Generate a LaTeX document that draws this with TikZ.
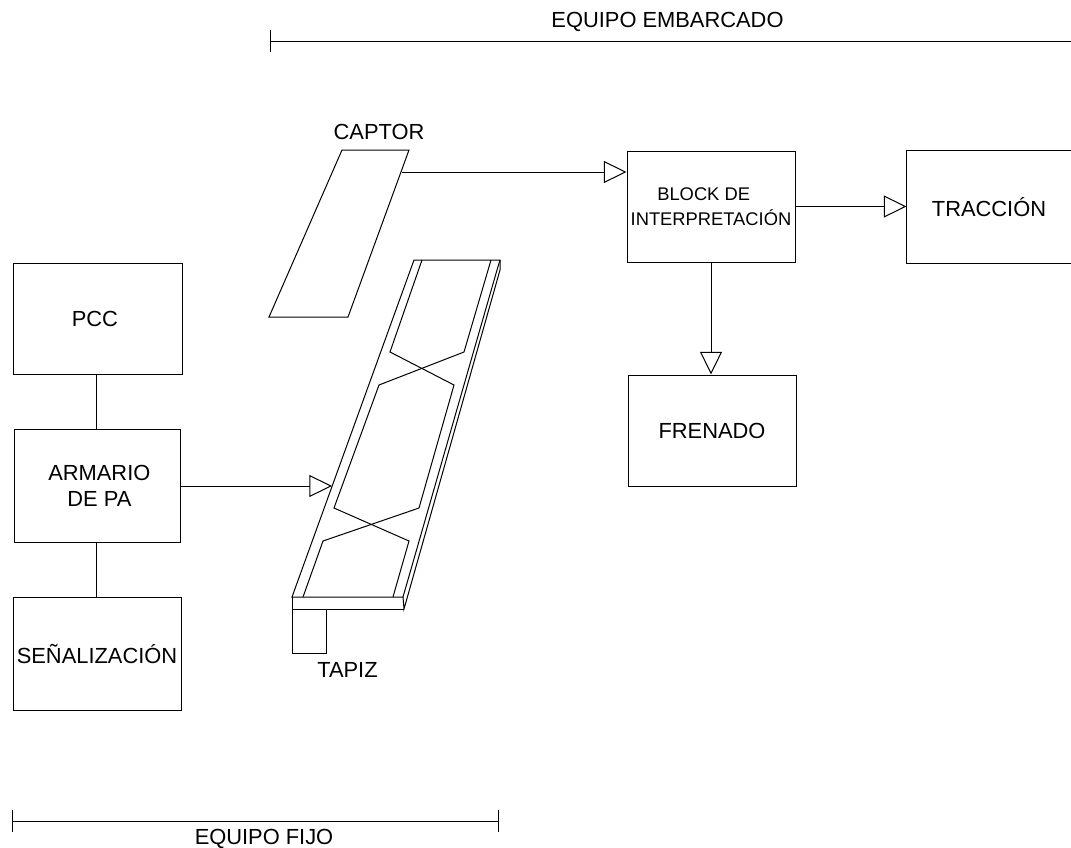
\documentclass[tikz,border=0pt]{standalone}
\usepackage{fontspec}
\setmainfont{Liberation Sans}
\usetikzlibrary{arrows.meta}

\tikzset{every picture/.style={line width=0.75pt}}
\tikzset{
blockbox/.style={draw, inner sep=0pt, align=center, font=\fontsize{16.4}{19.5}\selectfont},
openarrow/.style={-{Triangle[open,length=17pt,width=16.5pt]}},
spanlabel/.style={anchor=base, inner sep=0pt, font=\fontsize{16.4}{19.5}\selectfont}}

\begin{document}
\begin{tikzpicture}[x=0.75pt,y=0.75pt,yscale=-1,xscale=1]
\useasboundingbox (0,0) rectangle (1071,847);

% Blocks
\node [blockbox, minimum width=126.75pt, minimum height=83.25pt] (pcc) at (97.5,318.5) {PCC\hspace*{4pt}};
\node [blockbox, minimum width=124.5pt, minimum height=84.75pt] (armario) at (97,485.5) {\hspace*{3.5pt}ARMARIO\\\hspace*{3.5pt}DE PA};
\node [blockbox, minimum width=126pt, minimum height=84.75pt] (senal) at (97,653.5) {SEÑALIZACIÓN};
\node [blockbox, minimum width=126pt, minimum height=83.25pt, font=\fontsize{13.75}{18.75}\selectfont] (interp) at (711,206.5) {BLOCK DE\hspace*{11pt}\\INTERPRETACIÓN};
\node [blockbox, draw=none, minimum width=123pt, minimum height=84pt] (traccion) at (989,207) {TRACCIÓN};
\draw (traccion.north east) -- (traccion.north west) -- (traccion.south west) -- (traccion.south east);
\node [blockbox, minimum width=126pt, minimum height=83.25pt] (frenado) at (712,430.5) {FRENADO};

% Captor
\draw (342,150) -- (409,150) -- (348,317) -- (269,317) -- cycle;
\coordinate (captorout) at (402,172);
\node [spanlabel] (captor) at (379,139) {CAPTOR};

% Mat
\draw (414,260) -- (500,260) -- (497,270) -- (403,597) -- (292,597) -- cycle;
\draw (500,260) -- (500,270) -- (404,609) -- (403,597);
\draw (292,597) -- (292,609) -- (404,609);
\draw (422,260) -- (390,352) -- (454,385) -- (419,508) -- (323,541) -- (303,597);
\draw (491,260) -- (464,352) -- (379,385) -- (334,508) -- (409,541) -- (393,597);
\draw (292,609) -- (292,653) -- (326,653) -- (326,609);
\coordinate (matin) at (332,486);
\node [spanlabel] (tapiz) at (347.5,677) {TAPIZ};

% Connections
\coordinate (trunk) at (96,400);
\draw (trunk |- pcc.south) -- (trunk |- armario.north);
\draw (trunk |- armario.south) -- (trunk |- senal.north);
\draw [openarrow] (armario.east |- matin) -- (matin);
\draw [openarrow] (captorout) -- (captorout -| interp.west);
\draw [openarrow] (interp.east) -- (interp.east -| traccion.west);
\draw [openarrow] (interp.south) -- (interp.south |- frenado.north);

% Spans
\coordinate (boardl) at (270,41);
\coordinate (boardr) at (1071,41);
\coordinate (fixedl) at (12,821);
\coordinate (fixedr) at (499,821);
\draw [{Bar[width=17pt]}-] (boardl) -- (boardr);
\draw [{Bar[width=17pt]}-{Bar[width=17pt]}] (fixedl) -- (fixedr);
\node [spanlabel] (board) at (667.5,27) {EQUIPO EMBARCADO};
\node [spanlabel] (fixed) at (264,844) {EQUIPO FIJO};

\end{tikzpicture}
\end{document}
